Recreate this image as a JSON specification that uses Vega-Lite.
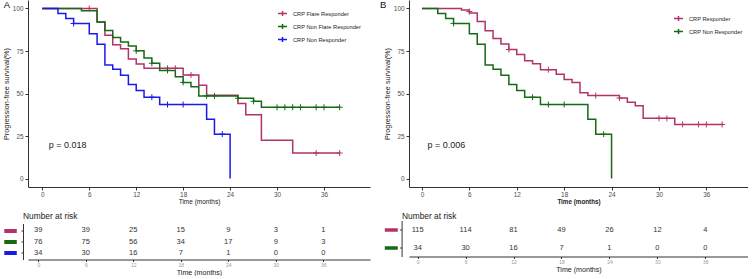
{
"$schema": "https://vega.github.io/schema/vega-lite/v6.json",
"background": "white",
"padding": {"left": 1, "top": 0, "right": 0, "bottom": 0},
"config": {
 "font": "Liberation Sans",
 "view": {"stroke": null},
 "axis": {"grid": false, "domainColor": "#333", "tickColor": "#333", "labelFont": "Liberation Sans", "titleFont": "Liberation Sans", "titleFontWeight": "normal", "titleColor": "#222", "labelColor": "#4D4D4D"},
 "title": {"font": "Liberation Sans"}
},
"datasets": {
 "kmA": [
  {"g":"CRP Flare Responder","t":0,"s":100},{"g":"CRP Flare Responder","t":7,"s":92.1},{"g":"CRP Flare Responder","t":8,"s":84.2},{"g":"CRP Flare Responder","t":9,"s":78.7},{"g":"CRP Flare Responder","t":10,"s":76.3},{"g":"CRP Flare Responder","t":11,"s":70.3},{"g":"CRP Flare Responder","t":12,"s":67.4},{"g":"CRP Flare Responder","t":13,"s":64.8},{"g":"CRP Flare Responder","t":18,"s":60.9},{"g":"CRP Flare Responder","t":20,"s":54.9},{"g":"CRP Flare Responder","t":21,"s":49.0},{"g":"CRP Flare Responder","t":25,"s":44.1},{"g":"CRP Flare Responder","t":26,"s":37.5},{"g":"CRP Flare Responder","t":28,"s":22.5},{"g":"CRP Flare Responder","t":32,"s":15.0},{"g":"CRP Flare Responder","t":38,"s":15.0},
  {"g":"CRP Non Flare Responder","t":0,"s":100},{"g":"CRP Non Flare Responder","t":5,"s":98.7},{"g":"CRP Non Flare Responder","t":7,"s":92.1},{"g":"CRP Non Flare Responder","t":8,"s":87.1},{"g":"CRP Non Flare Responder","t":9,"s":83.0},{"g":"CRP Non Flare Responder","t":10,"s":80.3},{"g":"CRP Non Flare Responder","t":11,"s":78.0},{"g":"CRP Non Flare Responder","t":12,"s":75.1},{"g":"CRP Non Flare Responder","t":13,"s":70.9},{"g":"CRP Non Flare Responder","t":14,"s":67.8},{"g":"CRP Non Flare Responder","t":15,"s":63.6},{"g":"CRP Non Flare Responder","t":17,"s":59.9},{"g":"CRP Non Flare Responder","t":18,"s":56.5},{"g":"CRP Non Flare Responder","t":19,"s":54.0},{"g":"CRP Non Flare Responder","t":20,"s":48.6},{"g":"CRP Non Flare Responder","t":25,"s":47.2},{"g":"CRP Non Flare Responder","t":27,"s":45.4},{"g":"CRP Non Flare Responder","t":28,"s":41.9},{"g":"CRP Non Flare Responder","t":38,"s":41.9},
  {"g":"CRP Non Responder","t":0,"s":100},{"g":"CRP Non Responder","t":2,"s":97.1},{"g":"CRP Non Responder","t":3,"s":94.1},{"g":"CRP Non Responder","t":4,"s":91.2},{"g":"CRP Non Responder","t":6,"s":85.1},{"g":"CRP Non Responder","t":7,"s":79.0},{"g":"CRP Non Responder","t":8,"s":66.8},{"g":"CRP Non Responder","t":9,"s":64.2},{"g":"CRP Non Responder","t":10,"s":60.8},{"g":"CRP Non Responder","t":11,"s":55.3},{"g":"CRP Non Responder","t":12,"s":51.8},{"g":"CRP Non Responder","t":13,"s":47.8},{"g":"CRP Non Responder","t":15,"s":43.5},{"g":"CRP Non Responder","t":21,"s":34.8},{"g":"CRP Non Responder","t":22,"s":26.1},{"g":"CRP Non Responder","t":24,"s":0}
 ],
 "censA": [
  {"g":"CRP Flare Responder","t":6,"s":100},{"g":"CRP Flare Responder","t":16,"s":64.8},{"g":"CRP Flare Responder","t":17,"s":64.8},{"g":"CRP Flare Responder","t":19,"s":60.9},{"g":"CRP Flare Responder","t":35,"s":15.0},{"g":"CRP Flare Responder","t":38,"s":15.0},
  {"g":"CRP Non Flare Responder","t":12,"s":75.1},{"g":"CRP Non Flare Responder","t":14,"s":67.8},{"g":"CRP Non Flare Responder","t":16,"s":63.6},{"g":"CRP Non Flare Responder","t":18,"s":56.5},{"g":"CRP Non Flare Responder","t":21,"s":48.6},{"g":"CRP Non Flare Responder","t":22,"s":48.6},{"g":"CRP Non Flare Responder","t":25,"s":47.2},{"g":"CRP Non Flare Responder","t":27,"s":45.4},{"g":"CRP Non Flare Responder","t":30,"s":41.9},{"g":"CRP Non Flare Responder","t":31,"s":41.9},{"g":"CRP Non Flare Responder","t":32,"s":41.9},{"g":"CRP Non Flare Responder","t":33,"s":41.9},{"g":"CRP Non Flare Responder","t":35,"s":41.9},{"g":"CRP Non Flare Responder","t":36,"s":41.9},{"g":"CRP Non Flare Responder","t":38,"s":41.9},
  {"g":"CRP Non Responder","t":4,"s":91.2},{"g":"CRP Non Responder","t":14,"s":47.8},{"g":"CRP Non Responder","t":16,"s":43.5},{"g":"CRP Non Responder","t":18,"s":43.5},{"g":"CRP Non Responder","t":23,"s":26.1}
 ],
 "riskA": [
  {"g":"CRP Flare Responder","t":0,"n":39},{"g":"CRP Flare Responder","t":6,"n":39},{"g":"CRP Flare Responder","t":12,"n":25},{"g":"CRP Flare Responder","t":18,"n":15},{"g":"CRP Flare Responder","t":24,"n":9},{"g":"CRP Flare Responder","t":30,"n":3},{"g":"CRP Flare Responder","t":36,"n":1},
  {"g":"CRP Non Flare Responder","t":0,"n":76},{"g":"CRP Non Flare Responder","t":6,"n":75},{"g":"CRP Non Flare Responder","t":12,"n":56},{"g":"CRP Non Flare Responder","t":18,"n":34},{"g":"CRP Non Flare Responder","t":24,"n":17},{"g":"CRP Non Flare Responder","t":30,"n":9},{"g":"CRP Non Flare Responder","t":36,"n":3},
  {"g":"CRP Non Responder","t":0,"n":34},{"g":"CRP Non Responder","t":6,"n":30},{"g":"CRP Non Responder","t":12,"n":16},{"g":"CRP Non Responder","t":18,"n":7},{"g":"CRP Non Responder","t":24,"n":1},{"g":"CRP Non Responder","t":30,"n":0},{"g":"CRP Non Responder","t":36,"n":0}
 ],
 "kmB": [
  {"g":"CRP Responder","t":0,"s":100},{"g":"CRP Responder","t":5,"s":99.1},{"g":"CRP Responder","t":6,"s":97.4},{"g":"CRP Responder","t":7,"s":92.4},{"g":"CRP Responder","t":8,"s":86.9},{"g":"CRP Responder","t":9,"s":82.4},{"g":"CRP Responder","t":10,"s":79.1},{"g":"CRP Responder","t":11,"s":75.9},{"g":"CRP Responder","t":12,"s":72.9},{"g":"CRP Responder","t":13,"s":69.3},{"g":"CRP Responder","t":14,"s":67.5},{"g":"CRP Responder","t":15,"s":64.0},{"g":"CRP Responder","t":17,"s":61.3},{"g":"CRP Responder","t":18,"s":58.3},{"g":"CRP Responder","t":19,"s":56.5},{"g":"CRP Responder","t":20,"s":50.4},{"g":"CRP Responder","t":21,"s":48.8},{"g":"CRP Responder","t":25,"s":47.3},{"g":"CRP Responder","t":26,"s":44.8},{"g":"CRP Responder","t":27,"s":42.8},{"g":"CRP Responder","t":28,"s":35.4},{"g":"CRP Responder","t":32,"s":31.8},{"g":"CRP Responder","t":38,"s":31.8},
  {"g":"CRP Non Responder","t":0,"s":100},{"g":"CRP Non Responder","t":2,"s":97.1},{"g":"CRP Non Responder","t":3,"s":94.1},{"g":"CRP Non Responder","t":4,"s":91.2},{"g":"CRP Non Responder","t":6,"s":85.1},{"g":"CRP Non Responder","t":7,"s":79.0},{"g":"CRP Non Responder","t":8,"s":66.8},{"g":"CRP Non Responder","t":9,"s":64.2},{"g":"CRP Non Responder","t":10,"s":60.8},{"g":"CRP Non Responder","t":11,"s":55.3},{"g":"CRP Non Responder","t":12,"s":51.8},{"g":"CRP Non Responder","t":13,"s":47.8},{"g":"CRP Non Responder","t":15,"s":43.5},{"g":"CRP Non Responder","t":21,"s":34.8},{"g":"CRP Non Responder","t":22,"s":26.1},{"g":"CRP Non Responder","t":24,"s":0}
 ],
 "censB": [
  {"g":"CRP Responder","t":6,"s":98.2},{"g":"CRP Responder","t":11,"s":75.9},{"g":"CRP Responder","t":16,"s":64.0},{"g":"CRP Responder","t":22,"s":48.8},{"g":"CRP Responder","t":25,"s":47.3},{"g":"CRP Responder","t":30,"s":35.4},{"g":"CRP Responder","t":31,"s":35.4},{"g":"CRP Responder","t":33,"s":31.8},{"g":"CRP Responder","t":35,"s":31.8},{"g":"CRP Responder","t":36,"s":31.8},{"g":"CRP Responder","t":38,"s":31.8},
  {"g":"CRP Non Responder","t":4,"s":91.2},{"g":"CRP Non Responder","t":14,"s":47.8},{"g":"CRP Non Responder","t":16,"s":43.5},{"g":"CRP Non Responder","t":18,"s":43.5},{"g":"CRP Non Responder","t":23,"s":26.1}
 ],
 "riskB": [
  {"g":"CRP Responder","t":0,"n":115},{"g":"CRP Responder","t":6,"n":114},{"g":"CRP Responder","t":12,"n":81},{"g":"CRP Responder","t":18,"n":49},{"g":"CRP Responder","t":24,"n":26},{"g":"CRP Responder","t":30,"n":12},{"g":"CRP Responder","t":36,"n":4},
  {"g":"CRP Non Responder","t":0,"n":34},{"g":"CRP Non Responder","t":6,"n":30},{"g":"CRP Non Responder","t":12,"n":16},{"g":"CRP Non Responder","t":18,"n":7},{"g":"CRP Non Responder","t":24,"n":1},{"g":"CRP Non Responder","t":30,"n":0},{"g":"CRP Non Responder","t":36,"n":0}
 ]
},
"hconcat": [
 {"vconcat": [
  {"width": 342, "height": 187,
   "layer": [
    {"data": {"name": "kmA"}, "mark": {"type": "line", "interpolate": "step-after", "strokeWidth": 1.5},
     "encoding": {
      "x": {"field": "t", "type": "quantitative", "scale": {"domain": [-1.83, 41.88], "nice": false, "zero": false}, "axis": {"values": [0,6,12,18,24,30,36], "title": "Time (months)", "labelFontSize": 6.4, "tickSize": 3, "labelPadding": 1, "titleFontSize": 6.5, "titlePadding": 1}},
      "y": {"field": "s", "type": "quantitative", "scale": {"domain": [-5, 105], "nice": false, "zero": false}, "axis": {"values": [0,25,50,75,100], "title": "Progression-free survival(%)", "labelFontSize": 6.4, "tickSize": 3, "labelPadding": 2, "titleFontSize": 7.3, "titlePadding": 2}},
      "color": {"field": "g", "type": "nominal", "scale": {"domain": ["CRP Flare Responder","CRP Non Flare Responder","CRP Non Responder"], "range": ["#B4326A","#156B15","#1A1AE8"]},
       "legend": {"orient": "none", "legendX": 249, "legendY": 8, "title": null, "labelFontSize": 5.7, "labelColor": "#222", "symbolType": "M-1,0H1M0,-0.55V0.55", "symbolSize": 81, "symbolStrokeWidth": 1.5, "rowPadding": 2, "labelOffset": 5, "padding": 0}}
     }},
    {"data": {"name": "censA"}, "mark": {"type": "point", "shape": "M-1,0H1M0,-1V1", "size": 36, "strokeWidth": 1, "filled": false, "opacity": 1},
     "encoding": {"x": {"field": "t", "type": "quantitative"}, "y": {"field": "s", "type": "quantitative"}, "color": {"field": "g", "type": "nominal"}}},
    {"data": {"values": [{}]}, "mark": {"type": "text", "fontSize": 9, "align": "left", "baseline": "middle", "color": "#222"},
     "encoding": {"x": {"datum": 0.82}, "y": {"datum": 20}, "text": {"value": "p = 0.018"}}},
    {"data": {"values": [{}]}, "mark": {"type": "text", "fontSize": 9.5, "align": "left", "baseline": "top", "dx": -24.3, "color": "#111"},
     "encoding": {"x": {"datum": -1.83}, "y": {"datum": 105}, "text": {"value": "A"}}}
   ]},
  {"width": 342, "height": 36,
   "data": {"name": "riskA"},
   "title": {"text": "Number at risk", "anchor": "start", "frame": "group", "dx": -5, "fontSize": 8.4, "fontWeight": "normal", "color": "#222", "offset": 0.5},
   "layer": [
    {"mark": {"type": "text", "fontSize": 7.5, "color": "#333"},
     "encoding": {
      "x": {"field": "t", "type": "quantitative", "scale": {"domain": [-1.3, 41.9], "nice": false, "zero": false}, "axis": {"values": [0,6,12,18,24,30,36], "title": "Time (months)", "labelFontSize": 5, "labelColor": "#999", "tickSize": 2, "labelPadding": 1, "titleFontSize": 7.1, "titlePadding": 1}},
      "y": {"field": "g", "type": "nominal", "sort": null, "scale": {"type": "point", "padding": 0.6, "domain": ["CRP Flare Responder","CRP Non Flare Responder","CRP Non Responder"]},
       "axis": {"title": null, "offset": 5, "tickSize": 2, "labels": false}},
      "text": {"field": "n", "type": "quantitative"}
     }},
    {"mark": {"type": "tick", "opacity": 0},
     "encoding": {
      "y": {"field": "g", "type": "nominal", "sort": null,
       "axis": {"orient": "left", "title": null, "offset": 11.7, "domain": false, "labels": false, "tickSize": 12.5, "tickWidth": 4,
        "tickColor": {"condition": [{"test": "datum.value === 'CRP Flare Responder'", "value": "#B4326A"}, {"test": "datum.value === 'CRP Non Flare Responder'", "value": "#156B15"}], "value": "#1A1AE8"}}}
     }}
   ],
   "resolve": {"axis": {"y": "independent"}}
  }
 ], "spacing": 6.5},
 {"vconcat": [
  {"width": 339, "height": 187,
   "layer": [
    {"data": {"name": "kmB"}, "mark": {"type": "line", "interpolate": "step-after", "strokeWidth": 1.5},
     "encoding": {
      "x": {"field": "t", "type": "quantitative", "scale": {"domain": [-1.64, 41.27], "nice": false, "zero": false}, "axis": {"values": [0,6,12,18,24,30,36], "title": "Time (months)", "titleFontWeight": "bold", "labelFontSize": 6.4, "tickSize": 3, "labelPadding": 1, "titleFontSize": 6.3, "titlePadding": 1}},
      "y": {"field": "s", "type": "quantitative", "scale": {"domain": [-5, 105], "nice": false, "zero": false}, "axis": {"values": [0,25,50,75,100], "title": "Progression-free survival(%)", "labelFontSize": 6.4, "tickSize": 3, "labelPadding": 2, "titleFontSize": 7.3, "titlePadding": 2}},
      "color": {"field": "g", "type": "nominal", "scale": {"domain": ["CRP Responder","CRP Non Responder"], "range": ["#B4326A","#156B15"]},
       "legend": {"orient": "none", "legendX": 264, "legendY": 13, "title": null, "labelFontSize": 5.7, "labelColor": "#222", "symbolType": "M-1,0H1M0,-0.55V0.55", "symbolSize": 81, "symbolStrokeWidth": 1.5, "rowPadding": 2, "labelOffset": 5, "padding": 0}}
     }},
    {"data": {"name": "censB"}, "mark": {"type": "point", "shape": "M-1,0H1M0,-1V1", "size": 36, "strokeWidth": 1, "filled": false, "opacity": 1},
     "encoding": {"x": {"field": "t", "type": "quantitative"}, "y": {"field": "s", "type": "quantitative"}, "color": {"field": "g", "type": "nominal"}}},
    {"data": {"values": [{}]}, "mark": {"type": "text", "fontSize": 9, "align": "left", "baseline": "middle", "color": "#222"},
     "encoding": {"x": {"datum": 0.71}, "y": {"datum": 19.6}, "text": {"value": "p = 0.006"}}},
    {"data": {"values": [{}]}, "mark": {"type": "text", "fontSize": 9.5, "align": "left", "baseline": "top", "dx": -29, "color": "#111"},
     "encoding": {"x": {"datum": -1.64}, "y": {"datum": 105}, "text": {"value": "B"}}}
   ]},
  {"width": 339, "height": 36,
   "data": {"name": "riskB"},
   "title": {"text": "Number at risk", "anchor": "start", "frame": "group", "dx": -7, "fontSize": 8.4, "fontWeight": "normal", "color": "#222", "offset": 0.5},
   "layer": [
    {"mark": {"type": "text", "fontSize": 7.5, "color": "#333"},
     "encoding": {
      "x": {"field": "t", "type": "quantitative", "scale": {"domain": [-1.08, 41.34], "nice": false, "zero": false}, "axis": {"values": [0,6,12,18,24,30,36], "title": "Time (months)", "labelFontSize": 5, "labelColor": "#999", "tickSize": 2, "labelPadding": 1, "titleFontSize": 7.1, "titlePadding": 1}},
      "y": {"field": "g", "type": "nominal", "sort": null, "scale": {"type": "point", "padding": 0.5, "domain": ["CRP Responder","CRP Non Responder"]},
       "axis": {"title": null, "offset": 7.4, "tickSize": 2, "labels": false}},
      "text": {"field": "n", "type": "quantitative"}
     }},
    {"mark": {"type": "tick", "opacity": 0},
     "encoding": {
      "y": {"field": "g", "type": "nominal", "sort": null,
       "axis": {"orient": "left", "title": null, "offset": 11.7, "domain": false, "labels": false, "tickSize": 13, "tickWidth": 3.5,
        "tickColor": {"condition": [{"test": "datum.value === 'CRP Responder'", "value": "#B4326A"}], "value": "#156B15"}}}
     }}
   ],
   "resolve": {"axis": {"y": "independent"}}
  }
 ], "spacing": 6.5}
],
"spacing": 10,
"resolve": {"scale": {"color": "independent"}, "legend": {"color": "independent"}}
}
